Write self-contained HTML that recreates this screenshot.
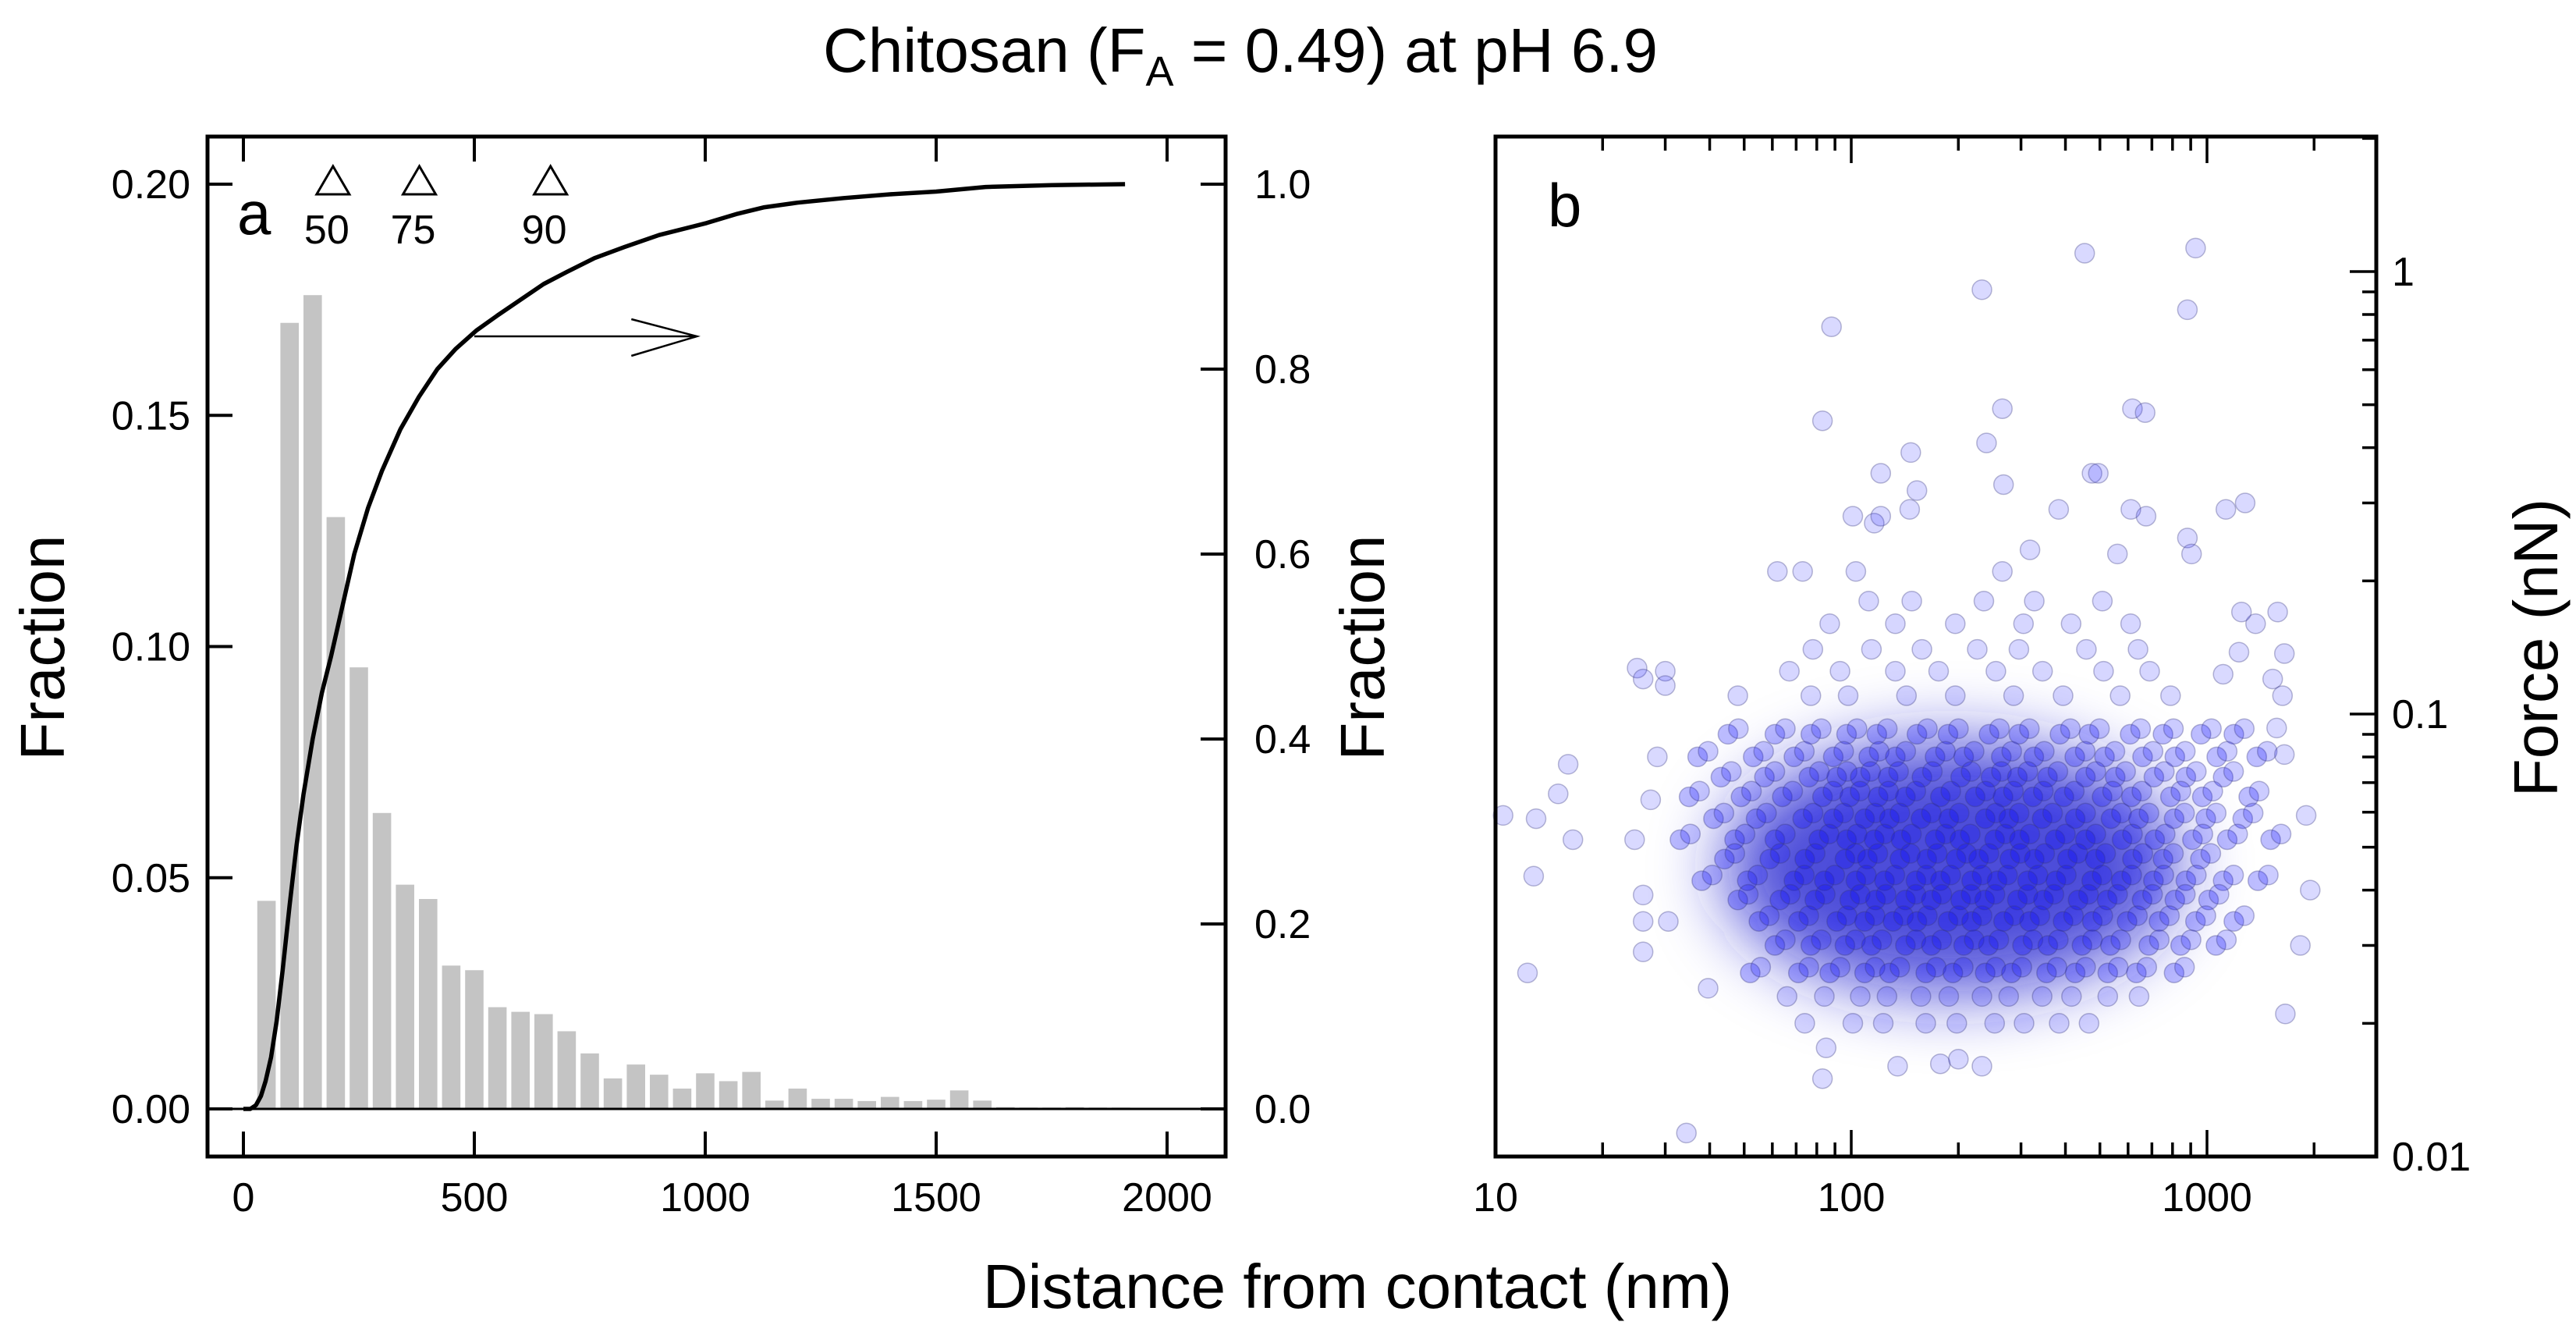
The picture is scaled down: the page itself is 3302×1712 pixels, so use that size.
<!DOCTYPE html>
<html><head><meta charset="utf-8"><style>
html,body{margin:0;padding:0;background:#fff;}
svg{display:block;font-family:"Liberation Sans",Arial,sans-serif;}
</style></head><body>
<svg id="fig" width="3302" height="1712" viewBox="0 0 3302 1712" xmlns="http://www.w3.org/2000/svg">
<defs>
<filter id="blur" x="-50%" y="-50%" width="200%" height="200%"><feGaussianBlur stdDeviation="45"/></filter>
</defs>
<text x="1590" y="92" font-size="80" text-anchor="middle">Chitosan (F<tspan font-size="54" dy="18">A</tspan><tspan dy="-18"> = 0.49) at pH 6.9</tspan></text>
<text x="1740" y="1676" font-size="80" text-anchor="middle">Distance from contact (nm)</text>
<g id="pa"></g>
<g id="pb"></g>
</svg>
<script>
// ---- Panel a data ----
const binCenters = [50,100,150,200,250,300,350,400,450,500,550,600,650,700,750,800,850,900,950,1000,1050,1100,1150,1200,1250,1300,1350,1400,1450,1500,1550,1600,1650,1700,1750,1800,1850,1900];
const binFractions = [0.045,0.170,0.176,0.128,0.0955,0.064,0.0485,0.0454,0.031,0.030,0.022,0.021,0.0205,0.0168,0.012,0.0066,0.0096,0.0074,0.0044,0.0077,0.006,0.008,0.0018,0.0044,0.0022,0.0022,0.0017,0.0026,0.0017,0.002,0.004,0.0018,0.0004,0.0003,0.0003,0.0004,0.0003,0.0003];
const cdfX = [0,15,27,38,48,60,72,85,100,115,130,150,170,190,215,240,270,300,340,380,420,460,505,550,600,650,700,760,825,900,1003,1070,1128,1200,1300,1400,1500,1607,1750,1909];
const cdfY = [0,0,0.004,0.014,0.03,0.056,0.095,0.15,0.22,0.285,0.34,0.4,0.45,0.49,0.545,0.6,0.65,0.69,0.735,0.77,0.8,0.822,0.842,0.858,0.875,0.892,0.905,0.92,0.932,0.945,0.958,0.968,0.975,0.98,0.985,0.989,0.992,0.997,0.999,1.0];
const markerX = [194,381,665];
const markerLabels = ["50","75","90"];
const leftTicks = [0,0.05,0.10,0.15,0.20];
const leftTickLabels = ["0.00","0.05","0.10","0.15","0.20"];
const rightTicks = [0,0.2,0.4,0.6,0.8,1.0];
const rightTickLabels = ["0.0","0.2","0.4","0.6","0.8","1.0"];
const xTicksA = [0,500,1000,1500,2000];
const xTickLabelsA = ["0","500","1000","1500","2000"];

// ---- Panel b data ----
const outlierDist = [929,453,233,881,88,83,266,617,670,240,147,121,475,495,153,268,101,116,121,146,383,611,674,1130,1280,881,905,318,266,560,62,73,103,25,26,30,30,16,15,13,10.5,16.5,12.8,12.3,28.5,27.3,24.6,26,26,30.6,26,39.6,34.4,83,85,135,178,200,233,1900,1950,1830,1660,1650,1530,1630,1570,1650,1370,1250,1580,1110,1230];
const outlierForce = [1.13,1.1,0.91,0.82,0.75,0.46,0.49,0.49,0.48,0.41,0.39,0.35,0.35,0.35,0.32,0.33,0.28,0.27,0.28,0.29,0.29,0.29,0.28,0.29,0.30,0.25,0.23,0.235,0.21,0.23,0.21,0.21,0.21,0.127,0.12,0.125,0.116,0.077,0.066,0.058,0.059,0.052,0.043,0.026,0.08,0.064,0.052,0.039,0.034,0.034,0.029,0.024,0.0113,0.015,0.0176,0.016,0.0162,0.0166,0.016,0.059,0.04,0.03,0.021,0.137,0.12,0.11,0.093,0.081,0.16,0.17,0.17,0.123,0.138];
const rowForce = [0.18,0.16,0.14,0.125,0.11,0.09,0.08,0.072,0.065,0.058,0.052,0.047,0.042,0.038,0.034,0.03,0.026,0.023,0.02];
const rowDist = [
 [112,148,236,327,508],
 [87,133,196,305,415,610],
 [78,114,158,226,296,458,640],
 [67,93,133,176,255,345,512,690],
 [48,77,98,143,196,286,394,570,790],
 [45,61,77,97,118,153,187,244,296,386,466,608,752,962,1190],
 [37,53,69,89,112,133,172,207,264,326,425,515,659,812,1065,1380],
 [43,57,76,91,106,127,158,203,247,293,356,455,552,709,872,1110],
 [35,49,64,83,99,119,142,178,223,267,324,396,507,613,789,970,1310],
 [41,54,73,89,109,128,157,188,238,277,344,426,537,642,808,992,1260],
 [33,47,61,81,97,116,138,172,202,253,297,374,455,577,713,910,1140,1510],
 [44,59,74,96,111,137,163,197,228,279,327,405,485,617,752,958],
 [38,51,69,84,103,124,152,178,218,257,313,376,474,574,707,872,1110,1390],
 [48,63,79,99,117,142,168,203,237,293,347,434,524,657,812,1010],
 [55,71,91,109,131,153,187,218,268,317,394,476,596,733,928,1190],
 [61,77,96,114,142,168,207,243,303,357,445,535,686,843,1060],
 [52,71,87,109,128,162,193,238,282,354,426,526,633,808],
 [66,84,106,126,157,188,233,277,344,416,526,644],
 [74,101,123,162,198,253,306,384,466]
];
const xTicksB = [10,100,1000];
const xTickLabelsB = ["10","100","1000"];
const yTicksB = [0.01,0.1,1];
const yTickLabelsB = ["0.01","0.1","1"];

const NS = "http://www.w3.org/2000/svg";
function mk(parent, tag, attrs){ const e=document.createElementNS(NS,tag); for(const k in attrs) e.setAttribute(k,attrs[k]); parent.appendChild(e); return e; }

// ---------- Panel A ----------
const A = document.getElementById('pa');
const aL=266,aR=1571,aT=175,aB=1482;
const xA = v => 312 + v*(1496-312)/2000;
const yA = v => 1421 - v*(1421-236)/0.2;
const yA2 = v => 1421 - v*(1421-236)/1.0;

binCenters.forEach((c,i)=>{
  const w = (xA(50)-xA(0)) - 6;
  const r = mk(A,'rect',{x:xA(c)-w/2,y:yA(binFractions[i]),width:w,height:yA(0)-yA(binFractions[i]),fill:'#c4c4c4'});
  
  
});
const zl = mk(A,'line',{x1:aL,x2:aR,y1:yA(0),y2:yA(0),stroke:'#000','stroke-width':3});


let d='';
cdfX.forEach((x,i)=>{ d += (i?'L':'M')+xA(x).toFixed(1)+','+yA2(cdfY[i]).toFixed(1)+' '; });
const cdf = mk(A,'path',{d:d,fill:'none',stroke:'#000','stroke-width':5.5,'stroke-linejoin':'round'});


const arr = mk(A,'path',{d:`M${xA(500)},431 L${xA(982)},431 M${xA(840)},409 L${xA(982)},431 L${xA(840)},456`,fill:'none',stroke:'#000','stroke-width':2.5});


markerX.forEach((m,i)=>{
  const cx=xA(m);
  const t = mk(A,'path',{d:`M${cx},213 L${cx-21},249 L${cx+21},249 Z`,fill:'#fff',stroke:'#000','stroke-width':3});
  
  
  const l = mk(A,'text',{x:cx-8,y:312,'font-size':52,'text-anchor':'middle'});
  l.textContent = markerLabels[i];
  
  
});
const la = mk(A,'text',{x:304,y:300,'font-size':78});
la.textContent='a';


const fa = mk(A,'rect',{x:aL,y:aT,width:aR-aL,height:aB-aT,fill:'none',stroke:'#000','stroke-width':5});


leftTicks.forEach((t,i)=>{
  mk(A,'line',{x1:aL,x2:aL+32,y1:yA(t),y2:yA(t),stroke:'#000','stroke-width':4});
  const tx = mk(A,'text',{x:244,y:yA(t)+18,'font-size':52,'text-anchor':'end'});
  tx.textContent = leftTickLabels[i];
  
  
});
rightTicks.forEach((t,i)=>{
  mk(A,'line',{x1:aR-32,x2:aR,y1:yA2(t),y2:yA2(t),stroke:'#000','stroke-width':4});
  const tx = mk(A,'text',{x:1608,y:yA2(t)+18,'font-size':52});
  tx.textContent = rightTickLabels[i];
  
  
});
xTicksA.forEach((t,i)=>{
  mk(A,'line',{x1:xA(t),x2:xA(t),y1:aB,y2:aB-32,stroke:'#000','stroke-width':4});
  mk(A,'line',{x1:xA(t),x2:xA(t),y1:aT,y2:aT+32,stroke:'#000','stroke-width':4});
  const tx = mk(A,'text',{x:xA(t),y:1552,'font-size':52,'text-anchor':'middle'});
  tx.textContent = xTickLabelsA[i];
  
  
});
const yl = mk(A,'text',{x:0,y:0,'font-size':80,'text-anchor':'middle',transform:'translate(82,830) rotate(-90)'});
yl.textContent='Fraction';


const yr = mk(A,'text',{x:0,y:0,'font-size':80,'text-anchor':'middle',transform:'translate(1774,830) rotate(-90)'});
yr.textContent='Fraction';



// ---------- Panel B ----------
const B = document.getElementById('pb');
const bL=1917,bR=3046,bT=175,bB=1482;
const xB = v => 1917 + (Math.log10(v)-1)*456;
const yB = v => 1482 - (Math.log10(v)+2)*567;
const haze = mk(B,'ellipse',{cx:xB(190),cy:yB(0.045),rx:290,ry:160,fill:'#1f1fd0','fill-opacity':0.8,filter:'url(#blur)'});


const dots = mk(B,'g',{});


function dot(x,f,op){
  const c = mk(dots,'circle',{cx:xB(x).toFixed(1),cy:yB(f).toFixed(1),r:12.5,fill:'#0000ff','fill-opacity':op,stroke:'#3a3a80','stroke-opacity':0.35,'stroke-width':1.5});
  
  
}
rowForce.forEach((f,ri)=>{
  const core = f<=0.09 && f>=0.026;
  rowDist[ri].forEach(x=>{
    dot(x,f,core?0.26:0.16);
    if(core){ dot(x*1.07,f*1.03,0.2); }
  });
});
outlierDist.forEach((x,i)=>dot(x,outlierForce[i],0.15));
const fb = mk(B,'rect',{x:bL,y:bT,width:bR-bL,height:bB-bT,fill:'none',stroke:'#000','stroke-width':5});


for(let dec=10; dec<=1000; dec*=10){
  for(let k=1;k<=9;k++){
    const v=dec*k; if(v>3000) break;
    const L = k===1?34:18;
    mk(B,'line',{x1:xB(v),x2:xB(v),y1:bB,y2:bB-L,stroke:'#000','stroke-width':3.5});
    mk(B,'line',{x1:xB(v),x2:xB(v),y1:bT,y2:bT+L,stroke:'#000','stroke-width':3.5});
  }
}
for(let dec=0.01; dec<2; dec*=10){
  for(let k=1;k<=9;k++){
    const v=dec*k; if(v>2.01) break;
    const L = k===1?34:18;
    mk(B,'line',{x1:bR,x2:bR-L,y1:yB(v),y2:yB(v),stroke:'#000','stroke-width':3.5});
  }
}
xTicksB.forEach((t,i)=>{
  const tx = mk(B,'text',{x:xB(t),y:1552,'font-size':52,'text-anchor':'middle'});
  tx.textContent = xTickLabelsB[i];
  
  
});
yTicksB.forEach((t,i)=>{
  const tx = mk(B,'text',{x:3066,y:yB(t)+18,'font-size':52});
  tx.textContent = yTickLabelsB[i];
  
  
});
const lb = mk(B,'text',{x:1984,y:290,'font-size':78});
lb.textContent='b';


const fy = mk(B,'text',{x:0,y:0,'font-size':80,'text-anchor':'middle',transform:'translate(3278,830) rotate(-90)'});
fy.textContent='Force (nN)';


</script>
</body></html>
